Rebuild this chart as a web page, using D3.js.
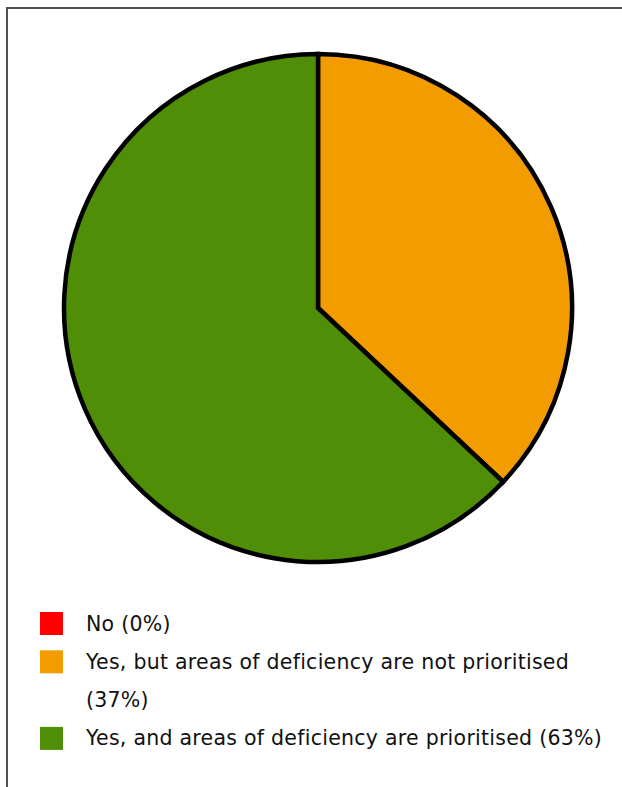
<!DOCTYPE html>
<html><head><meta charset="utf-8">
<script src="https://cdn.jsdelivr.net/npm/d3@7"></script>
<style>html,body{margin:0;padding:0;background:#fff;}svg{display:block;}</style>
</head><body>
<svg id="chart" width="622" height="787"></svg>
<script>
const categories = ["No", "Yes, but areas of deficiency are not prioritised", "Yes, and areas of deficiency are prioritised"];
const values = [0, 37, 63];
const colors = ["#ff0000", "#f29c00", "#508e08"];
const legendLines = [["No (0%)"], ["Yes, but areas of deficiency are not prioritised", "(37%)"], ["Yes, and areas of deficiency are prioritised (63%)"]];

const svg = d3.select("#chart");
// frame
svg.append("rect").attr("x", 7).attr("y", 8).attr("width", 640).attr("height", 800)
  .attr("fill", "none").attr("stroke", "#505050").attr("stroke-width", 2);

const cx = 318, cy = 308, r = 254;
const pie = d3.pie().sort(null).value(d => d)(values);
const arc = d3.arc().innerRadius(0).outerRadius(r);
const g = svg.append("g").attr("transform", `translate(${cx},${cy})`);
g.selectAll("path").data(pie).join("path")
  .attr("d", arc).attr("fill", (d, i) => colors[i])
  .attr("stroke", "#000").attr("stroke-width", 4.5).attr("stroke-linejoin", "miter");

const lg = svg.append("g");
const fontSize = 20.5, lineH = 38.3, firstBase = 630.5;
let line = 0;
const texts = [];
categories.forEach((c, i) => {
  const base = firstBase + line * lineH;
  lg.append("rect").attr("x", 40).attr("y", base - 18.5).attr("width", 23).attr("height", 23).attr("fill", colors[i]);
  legendLines[i].forEach((t, j) => {
    texts.push(lg.append("text").attr("x", 86).attr("y", base + j * lineH)
      .attr("font-family", "DejaVu Sans, sans-serif").attr("font-size", fontSize)
      .attr("fill", "#111").text(t));
  });
  line += legendLines[i].length;
});
// fit letter spacing so the longest line spans the same width as the original
const longest = texts[texts.length - 1];
const w = longest.node().getComputedTextLength();
const n = longest.text().length;
const ls = Math.max(-1, Math.min(2, (516 - w) / n));
texts.forEach(t => t.attr("letter-spacing", ls));
</script>
</body></html>
